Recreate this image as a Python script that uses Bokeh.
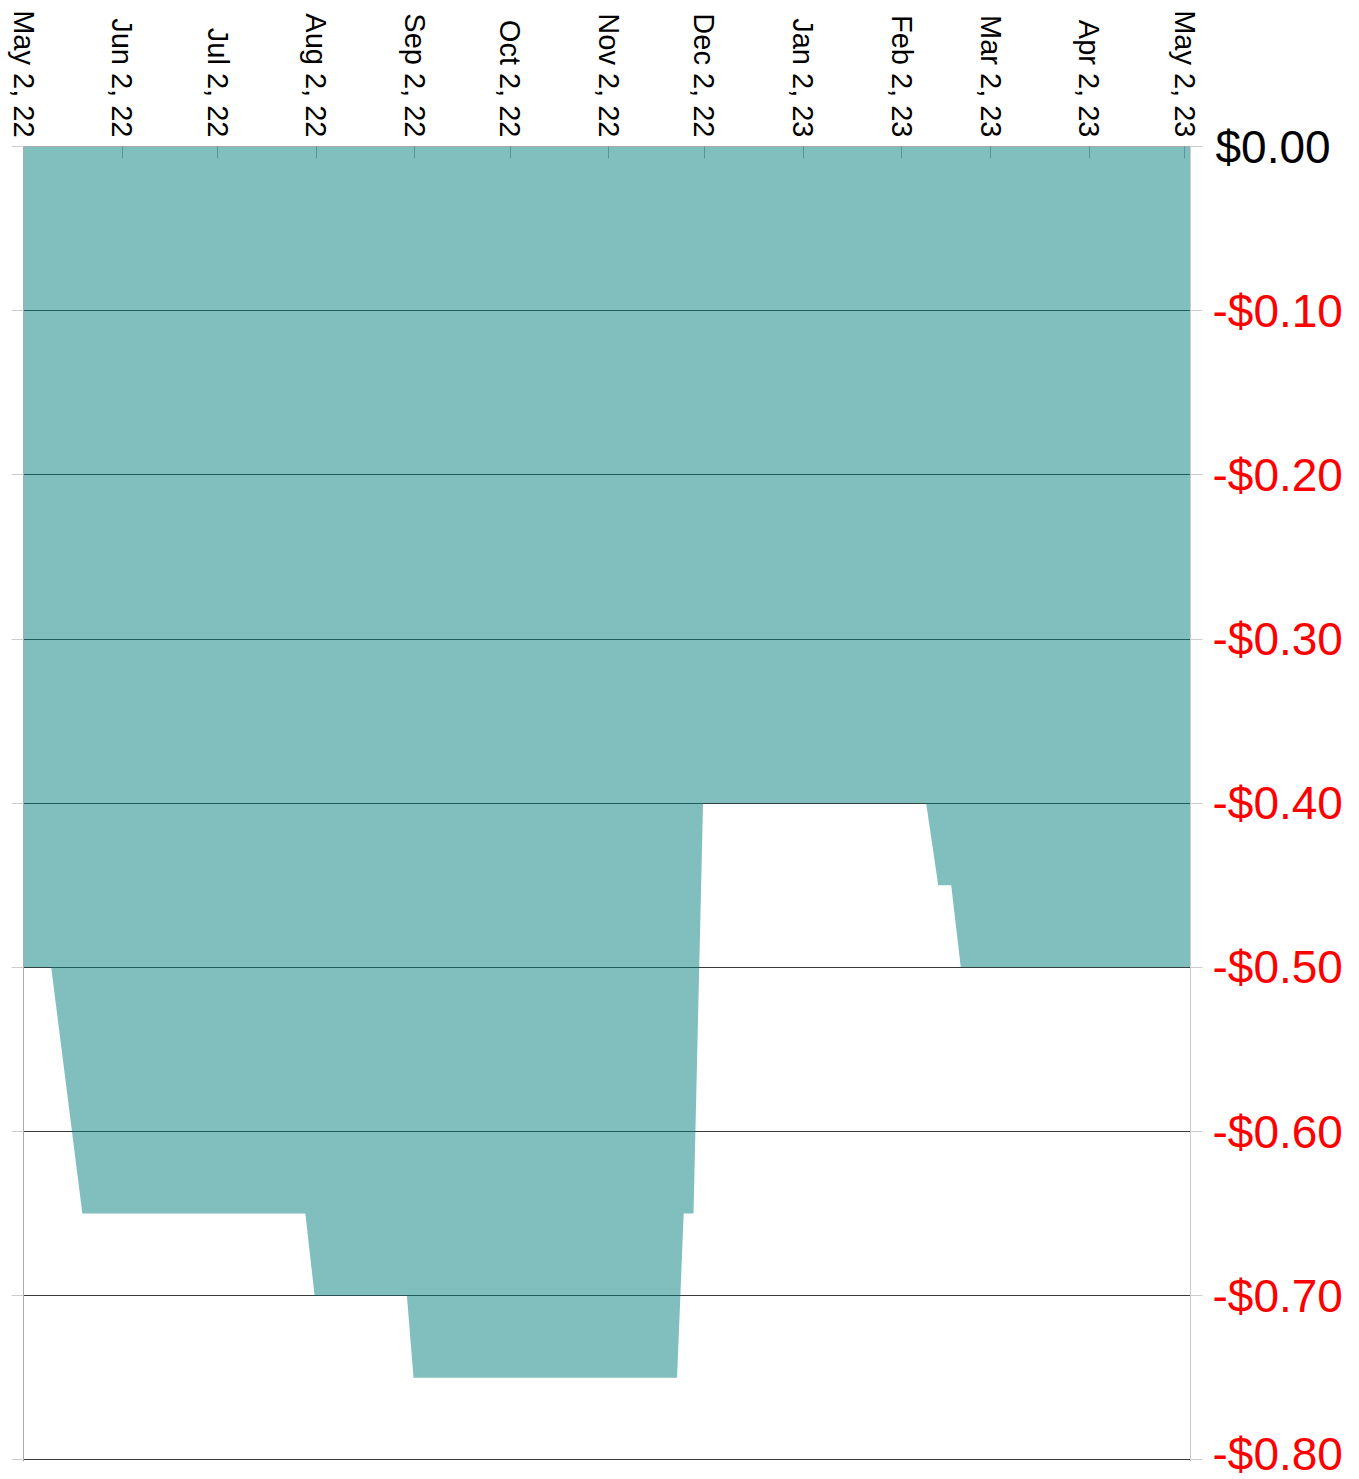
import math
import pandas as pd
from bokeh.plotting import figure
from bokeh.models import Range1d, LinearAxis, FixedTicker, ColumnDataSource
from bokeh.embed import file_html
from bokeh.resources import INLINE

# ---- data ----
dates = ["2022-05-02 00:00", "2022-05-10 17:00", "2022-05-20 12:00",
         "2022-07-29 14:00", "2022-08-01 12:00", "2022-08-30 12:00",
         "2022-09-01 14:00", "2022-11-23 10:00", "2022-11-25 12:00",
         "2022-11-28 14:00", "2022-12-01 14:00", "2023-02-09 17:00",
         "2023-02-13 12:00", "2023-02-17 14:00", "2023-02-20 14:00",
         "2023-05-03 19:00"]
values = [-0.50, -0.50, -0.65, -0.65, -0.70, -0.70, -0.75, -0.75,
          -0.65, -0.65, -0.40, -0.40, -0.45, -0.45, -0.50, -0.50]

x_tick_dates = ["2022-05-02", "2022-06-02", "2022-07-02", "2022-08-02",
                "2022-09-02", "2022-10-02", "2022-11-02", "2022-12-02",
                "2023-01-02", "2023-02-02", "2023-03-02", "2023-04-02",
                "2023-05-02"]
x_tick_labels = ["May 2, 22", "Jun 2, 22", "Jul 2, 22", "Aug 2, 22",
                 "Sep 2, 22", "Oct 2, 22", "Nov 2, 22", "Dec 2, 22",
                 "Jan 2, 23", "Feb 2, 23", "Mar 2, 23", "Apr 2, 23",
                 "May 2, 23"]
y_ticks = [0.0, -0.1, -0.2, -0.3, -0.4, -0.5, -0.6, -0.7, -0.8]
y_tick_labels = ["$0.00", "-$0.10", "-$0.20", "-$0.30", "-$0.40",
                 "-$0.50", "-$0.60", "-$0.70", "-$0.80"]

# ---- build ----
def ms(s):
    return float(pd.Timestamp(s).value // 10**6)

x_ms = [ms(d) for d in dates]
xt_ms = [ms(d) for d in x_tick_dates]

src = ColumnDataSource(data=dict(x=x_ms, y=values, zero=[0.0] * len(values)))

FONT = "Liberation Sans"
YFS = 46

p = figure(width=1359, height=1479, x_axis_type="datetime",
           x_axis_location="above", y_axis_location="left",
           x_range=Range1d(start=x_ms[0], end=x_ms[-1]),
           y_range=Range1d(start=y_ticks[-1] - 0.001, end=y_ticks[0]),
           output_backend="svg", toolbar_location=None,
           min_border_left=23, min_border_right=169,
           min_border_top=146, min_border_bottom=18)
p.outline_line_color = None
p.background_fill_color = "white"
p.border_fill_color = "white"

p.varea(x="x", y1="zero", y2="y", source=src,
        fill_color="#047d7d", fill_alpha=0.5)

# grid
p.xgrid.visible = False
p.ygrid.ticker = FixedTicker(ticks=y_ticks)
p.ygrid.grid_line_color = "#3a3a3a"
p.ygrid.grid_line_width = 1

# top x axis
xa = p.xaxis[0]
xa.ticker = FixedTicker(ticks=xt_ms)
xa.major_label_overrides = {t: l for t, l in zip(xt_ms, x_tick_labels)}
xa.major_label_orientation = -math.pi / 2
xa.major_label_text_font = FONT
xa.major_label_text_font_size = "29px"
xa.major_label_text_color = "black"
xa.major_label_standoff = 9
xa.major_tick_in = 12
xa.major_tick_out = 0
xa.major_tick_line_color = "#5a9696"
xa.minor_tick_line_color = None
xa.axis_line_color = "#aaaaaa"

# left y axis (ticks only)
ya = p.yaxis[0]
ya.ticker = FixedTicker(ticks=y_ticks)
ya.major_label_overrides = {t: "" for t in y_ticks}
ya.major_label_text_font_size = "0px"
ya.major_label_standoff = 0
ya.major_tick_out = 12
ya.major_tick_in = 0
ya.major_tick_line_color = "#cccccc"
ya.minor_tick_line_color = None
ya.axis_line_color = "#aaaaaa"

# right y axis: ticks + red labels for negative values
ra = LinearAxis(ticker=FixedTicker(ticks=y_ticks))
overrides = {t: l for t, l in zip(y_ticks, y_tick_labels)}
overrides[y_ticks[0]] = ""
ra.major_label_overrides = overrides
ra.major_label_text_font = FONT
ra.major_label_text_font_size = f"{YFS}px"
ra.major_label_text_color = "red"
ra.major_label_standoff = 10
ra.major_tick_out = 12
ra.major_tick_in = 0
ra.major_tick_line_color = "#cccccc"
ra.minor_tick_line_color = None
ra.axis_line_color = "#cccccc"
p.add_layout(ra, "right")

# second right axis: black label for the zero tick, pulled back over the first
inner_w = 12 + 10 + 2.835 * YFS
ra0 = LinearAxis(ticker=FixedTicker(ticks=[y_ticks[0]]))
ra0.major_label_overrides = {y_ticks[0]: y_tick_labels[0]}
ra0.major_label_text_font = FONT
ra0.major_label_text_font_size = f"{YFS}px"
ra0.major_label_text_color = "black"
ra0.major_label_standoff = int(round(22 - inner_w))
ra0.major_tick_out = 0
ra0.major_tick_in = 0
ra0.major_tick_line_color = None
ra0.minor_tick_line_color = None
ra0.axis_line_color = None
p.add_layout(ra0, "right")

open("out.html", "w").write(file_html(p, INLINE))
